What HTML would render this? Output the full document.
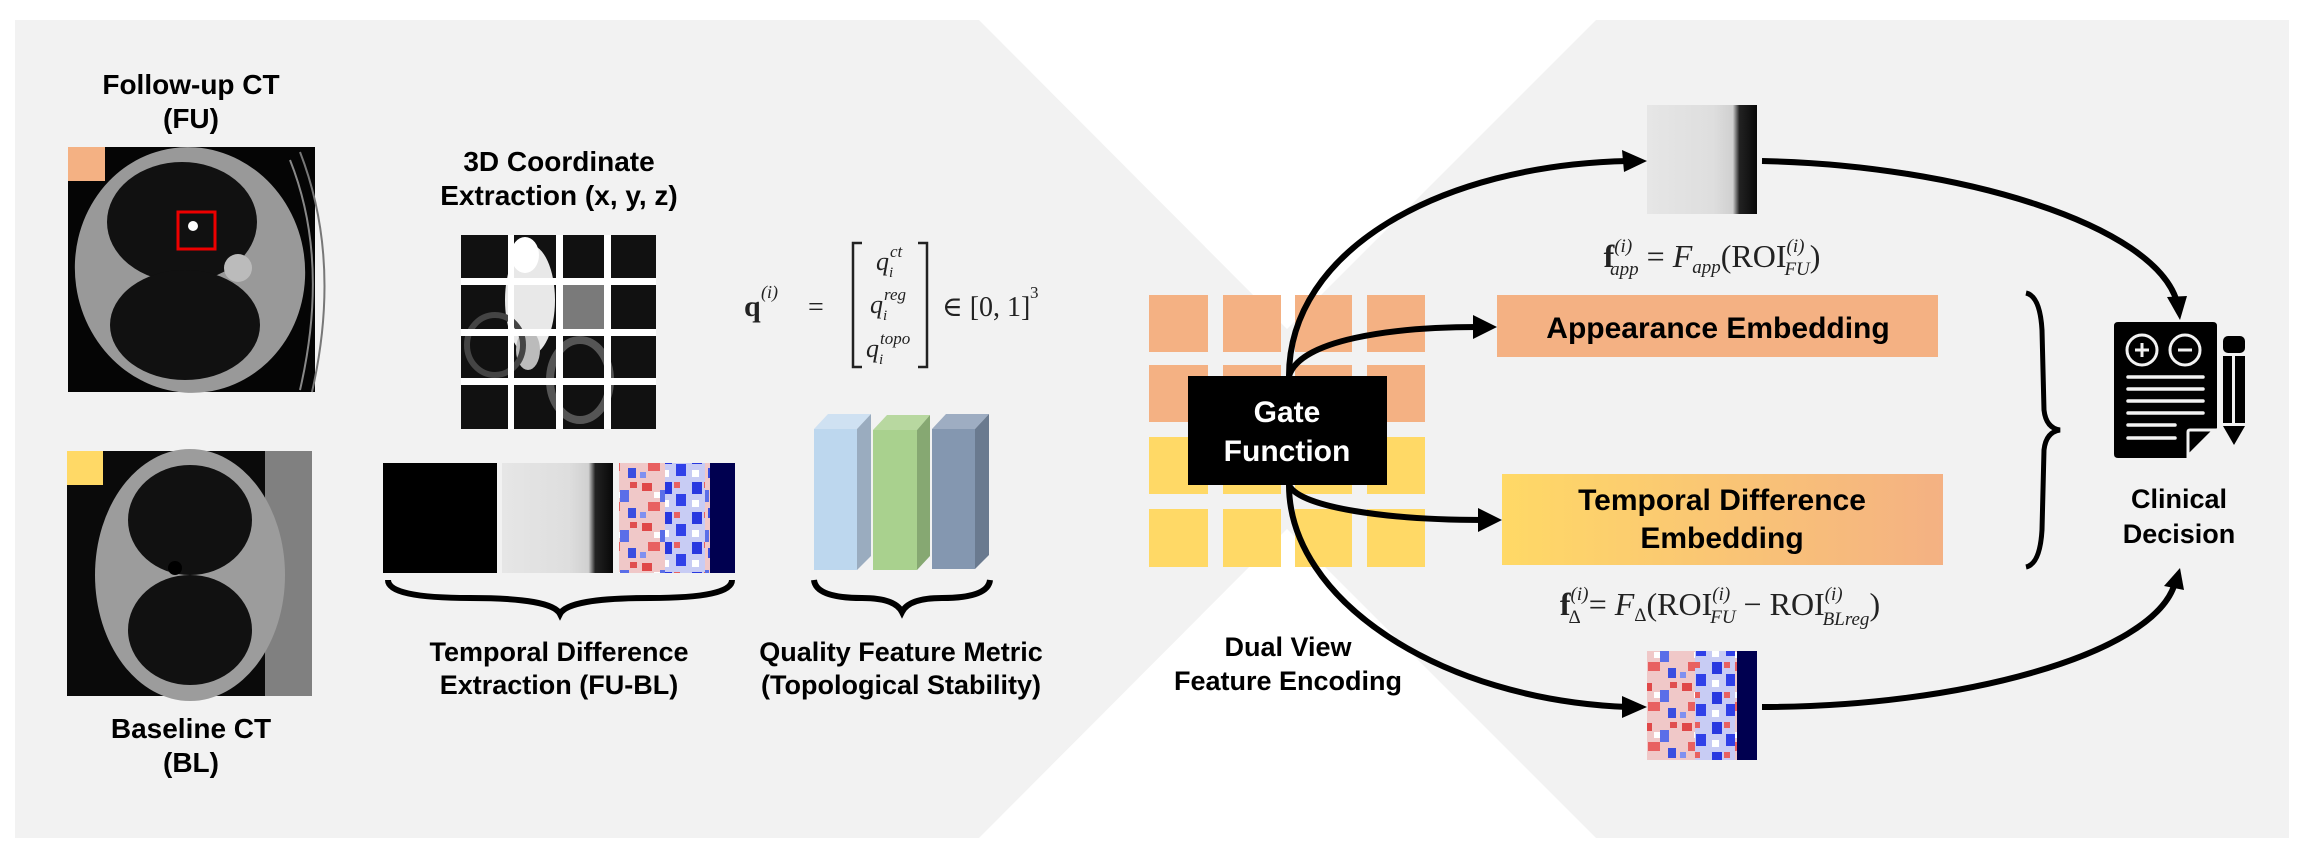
<!DOCTYPE html>
<html><head><meta charset="utf-8"><style>
html,body{margin:0;padding:0;background:#fff;}
svg{display:block;}
.t{font-family:"Liberation Sans",Arial,sans-serif;font-weight:bold;fill:#000;}
.m{font-family:"Liberation Serif","DejaVu Serif",serif;fill:#222;}
</style></head><body>
<svg width="2306" height="856" viewBox="0 0 2306 856" xmlns="http://www.w3.org/2000/svg">
<defs>
<linearGradient id="tg" x1="0" x2="1" y1="0" y2="0"><stop offset="0" stop-color="#ffd966"/><stop offset="1" stop-color="#f4b183"/></linearGradient>
<linearGradient id="gs" x1="0" x2="1"><stop offset="0" stop-color="#e6e6e6"/><stop offset="0.6" stop-color="#dedede"/><stop offset="0.78" stop-color="#d0d0d0"/><stop offset="0.84" stop-color="#222"/><stop offset="1" stop-color="#080808"/></linearGradient>
<pattern id="rb" width="40" height="40" patternUnits="userSpaceOnUse">
<rect width="40" height="40" fill="#f0c8c8"/>
<rect x="2" y="3" width="10" height="8" fill="#e04848"/><rect x="20" y="10" width="9" height="12" fill="#5a6ee8"/>
<rect x="8" y="22" width="12" height="9" fill="#e86060"/><rect x="28" y="28" width="8" height="10" fill="#3a4ee0"/>
<rect x="14" y="12" width="6" height="6" fill="#fff"/><rect x="30" y="2" width="7" height="6" fill="#e05050"/>
<rect x="0" y="32" width="6" height="6" fill="#8090f0"/>
</pattern>
<pattern id="bb" width="30" height="30" patternUnits="userSpaceOnUse">
<rect width="30" height="30" fill="#c8ccf4"/>
<rect x="2" y="2" width="10" height="12" fill="#2838e0"/><rect x="16" y="14" width="10" height="12" fill="#3040e8"/>
<rect x="14" y="2" width="6" height="6" fill="#e86060"/><rect x="2" y="20" width="7" height="7" fill="#fff"/>
</pattern>
</defs>

<polygon points="15,20 2289,20 2289,838 15,838" fill="#f2f2f2"/>
<polygon points="979,20 1596,20 1287,329" fill="#fff"/>
<polygon points="979,838 1596,838 1287,529" fill="#fff"/>

<!-- FU CT -->
<text class="t" x="191" y="94" font-size="28" text-anchor="middle">Follow-up CT</text>
<text class="t" x="191" y="128" font-size="28" text-anchor="middle">(FU)</text>
<rect x="68" y="147" width="247" height="245" fill="#050505"/>
<ellipse cx="190" cy="270" rx="115" ry="123" fill="#999" transform="rotate(-8 190 270)"/>
<ellipse cx="182" cy="222" rx="75" ry="60" fill="#111"/>
<ellipse cx="185" cy="325" rx="75" ry="55" fill="#111"/>
<circle cx="238" cy="268" r="14" fill="#bbb"/>
<path d="M290 160 Q330 260 300 390" stroke="#888" stroke-width="2" fill="none"/>
<path d="M300 152 Q342 260 312 392" stroke="#777" stroke-width="2" fill="none"/>
<rect x="178" y="212" width="37" height="37" fill="none" stroke="#e00" stroke-width="3"/>
<circle cx="193" cy="226" r="5" fill="#fff"/>
<rect x="68" y="147" width="37" height="34" fill="#f4b183"/>

<!-- BL CT -->
<rect x="67" y="451" width="245" height="245" fill="#0a0a0a"/>
<rect x="265" y="451" width="47" height="245" fill="#808080"/>
<ellipse cx="190" cy="575" rx="95" ry="126" fill="#9c9c9c"/>
<ellipse cx="190" cy="520" rx="62" ry="55" fill="#111"/>
<ellipse cx="190" cy="630" rx="62" ry="55" fill="#111"/>
<circle cx="175" cy="568" r="7" fill="#000"/>
<rect x="67" y="451" width="36" height="34" fill="#ffd966"/>
<text class="t" x="191" y="738" font-size="28" text-anchor="middle">Baseline CT</text>
<text class="t" x="191" y="772" font-size="28" text-anchor="middle">(BL)</text>

<!-- 3D coordinate -->
<text class="t" x="559" y="171" font-size="28" text-anchor="middle">3D Coordinate</text>
<text class="t" x="559" y="205" font-size="28" text-anchor="middle">Extraction (x, y, z)</text>
<rect x="461" y="235" width="195" height="194" fill="#111"/>
<ellipse cx="530" cy="300" rx="25" ry="55" fill="#e8e8e8"/>
<ellipse cx="525" cy="255" rx="14" ry="18" fill="#fff"/>
<rect x="563" y="285" width="41" height="44" fill="#7a7a7a"/>
<ellipse cx="528" cy="350" rx="12" ry="20" fill="#bbb"/>
<ellipse cx="580" cy="380" rx="30" ry="40" fill="none" stroke="#555" stroke-width="8"/>
<ellipse cx="495" cy="345" rx="28" ry="30" fill="none" stroke="#444" stroke-width="6"/>
<g fill="#fff">
<rect x="508" y="235" width="6" height="194"/><rect x="556" y="235" width="7" height="194"/><rect x="604" y="235" width="7" height="194"/>
<rect x="461" y="278" width="195" height="7"/><rect x="461" y="329" width="195" height="7"/><rect x="461" y="378" width="195" height="7"/>
</g>

<!-- strips -->
<rect x="383" y="463" width="114" height="110" fill="#000"/>
<rect x="502" y="463" width="111" height="110" fill="url(#gs)"/>
<rect x="619" y="463" width="116" height="110" fill="url(#rb)"/>
<rect x="665" y="463" width="40" height="110" fill="url(#bb)"/>
<rect x="710" y="463" width="25" height="110" fill="#000050"/>
<path d="M388 580 Q388 598 470 598 Q552 598 560 614 Q568 598 650 598 Q732 598 732 580" fill="none" stroke="#000" stroke-width="6"/>
<text class="t" x="559" y="661" font-size="27" text-anchor="middle">Temporal Difference</text>
<text class="t" x="559" y="694" font-size="27" text-anchor="middle">Extraction (FU-BL)</text>

<!-- q equation -->
<text class="m" x="744" y="316" font-size="30" font-weight="bold">q</text>
<text class="m" x="761" y="298" font-size="18" font-style="italic">(i)</text>
<text class="m" x="808" y="316" font-size="28">=</text>
<path d="M862 243 L853 243 L853 367 L862 367 M918 243 L927 243 L927 367 L918 367" fill="none" stroke="#222" stroke-width="2.5"/>
<text class="m" x="876" y="270" font-size="26" font-style="italic">q</text><text class="m" x="890" y="257" font-size="17" font-style="italic">ct</text><text class="m" x="889" y="277" font-size="15" font-style="italic">i</text>
<text class="m" x="870" y="313" font-size="26" font-style="italic">q</text><text class="m" x="884" y="300" font-size="17" font-style="italic">reg</text><text class="m" x="883" y="320" font-size="15" font-style="italic">i</text>
<text class="m" x="866" y="357" font-size="26" font-style="italic">q</text><text class="m" x="880" y="344" font-size="17" font-style="italic">topo</text><text class="m" x="879" y="364" font-size="15" font-style="italic">i</text>
<text class="m" x="942" y="316" font-size="28">∈ [0, 1]</text><text class="m" x="1030" y="298" font-size="17">3</text>

<!-- bars -->
<polygon points="814,429 828,414 871,414 857,429" fill="#cfe1f2"/><rect x="814" y="429" width="43" height="141" fill="#bdd7ee"/><polygon points="857,429 871,414 871,556 857,570" fill="#9aacbf"/>
<polygon points="873,430 887,415 930,415 917,430" fill="#b8d8a0"/><rect x="873" y="430" width="44" height="140" fill="#a9d18e"/><polygon points="917,430 930,415 930,556 917,570" fill="#86a872"/>
<polygon points="932,429 946,414 989,414 975,429" fill="#9eadc2"/><rect x="932" y="429" width="43" height="140" fill="#8497b0"/><polygon points="975,429 989,414 989,555 975,569" fill="#6a7a8f"/>
<path d="M814 580 Q816 598 862 598 Q895 598 902 612 Q909 598 942 598 Q988 598 990 580" fill="none" stroke="#000" stroke-width="6"/>
<text class="t" x="901" y="661" font-size="27" text-anchor="middle">Quality Feature Metric</text>
<text class="t" x="901" y="694" font-size="27" text-anchor="middle">(Topological Stability)</text>

<!-- grid -->
<g fill="#f4b183">
<rect x="1149" y="295" width="59" height="57"/><rect x="1223" y="295" width="58" height="57"/><rect x="1295" y="295" width="57" height="57"/><rect x="1367" y="295" width="58" height="57"/>
<rect x="1149" y="365" width="59" height="57"/><rect x="1223" y="365" width="58" height="57"/><rect x="1295" y="365" width="57" height="57"/><rect x="1367" y="365" width="58" height="57"/>
</g>
<g fill="#ffd966">
<rect x="1149" y="437" width="59" height="57"/><rect x="1223" y="437" width="58" height="57"/><rect x="1295" y="437" width="57" height="57"/><rect x="1367" y="437" width="58" height="57"/>
<rect x="1149" y="509" width="59" height="58"/><rect x="1223" y="509" width="58" height="58"/><rect x="1295" y="509" width="57" height="58"/><rect x="1367" y="509" width="58" height="58"/>
</g>
<rect x="1188" y="376" width="199" height="109" fill="#000"/>
<text class="t" x="1287" y="422" font-size="30" text-anchor="middle" style="fill:#fff">Gate</text>
<text class="t" x="1287" y="461" font-size="30" text-anchor="middle" style="fill:#fff">Function</text>
<text class="t" x="1288" y="656" font-size="27" text-anchor="middle">Dual View</text>
<text class="t" x="1288" y="690" font-size="27" text-anchor="middle">Feature Encoding</text>

<!-- right images -->
<rect x="1647" y="105" width="110" height="109" fill="url(#gs)"/>
<rect x="1647" y="651" width="110" height="109" fill="url(#rb)"/>
<rect x="1695" y="651" width="40" height="109" fill="url(#bb)"/>
<rect x="1737" y="651" width="20" height="109" fill="#000050"/>

<!-- boxes -->
<rect x="1497" y="295" width="441" height="62" fill="#f4b183"/>
<text class="t" x="1718" y="338" font-size="30" text-anchor="middle">Appearance Embedding</text>
<rect x="1502" y="474" width="441" height="91" fill="url(#tg)"/>
<text class="t" x="1722" y="510" font-size="30" text-anchor="middle">Temporal Difference</text>
<text class="t" x="1722" y="548" font-size="30" text-anchor="middle">Embedding</text>

<!-- equations -->
<text class="m" x="1712" y="267" font-size="32" text-anchor="middle"><tspan font-weight="bold">f</tspan><tspan font-size="19" font-style="italic" dy="-15">(i)</tspan><tspan font-size="19" font-style="italic" dx="-22" dy="23">app</tspan><tspan dy="-8">  =  </tspan><tspan font-style="italic">F</tspan><tspan font-size="19" font-style="italic" dy="6">app</tspan><tspan dy="-6">(ROI</tspan><tspan font-size="19" font-style="italic" dy="-15">(i)</tspan><tspan font-size="19" font-style="italic" dx="-20" dy="23">FU</tspan><tspan dy="-8">)</tspan></text>

<text class="m" x="1720" y="615" font-size="32" text-anchor="middle"><tspan font-weight="bold">f</tspan><tspan font-size="19" font-style="italic" dy="-15">(i)</tspan><tspan font-size="19" dx="-20" dy="23">Δ</tspan><tspan dy="-8">  =  </tspan><tspan font-style="italic">F</tspan><tspan font-size="19" dy="6">Δ</tspan><tspan dy="-6">(ROI</tspan><tspan font-size="19" font-style="italic" dy="-15">(i)</tspan><tspan font-size="19" font-style="italic" dx="-20" dy="23">FU</tspan><tspan dy="-8">  −  ROI</tspan><tspan font-size="19" font-style="italic" dy="-15">(i)</tspan><tspan font-size="19" font-style="italic" dx="-20" dy="25">BLreg</tspan><tspan dy="-10">)</tspan></text>

<!-- big brace -->
<path d="M2026 293 Q2040 296 2042 330 L2044 410 Q2046 428 2060 430 Q2046 432 2044 450 L2042 530 Q2040 564 2026 567" fill="none" stroke="#000" stroke-width="5"/>

<!-- icon -->
<path d="M2118 322 L2213 322 Q2217 322 2217 326 L2217 428 L2187 458 L2118 458 Q2114 458 2114 454 L2114 326 Q2114 322 2118 322Z" fill="#000"/>
<path d="M2188 456 L2188 432 Q2188 430 2190 430 L2214 430Z" fill="#000" stroke="#f2f2f2" stroke-width="3"/>
<circle cx="2142" cy="350" r="15" fill="none" stroke="#f2f2f2" stroke-width="3"/>
<path d="M2135 350 H2149 M2142 343 V357" stroke="#f2f2f2" stroke-width="3"/>
<circle cx="2185" cy="350" r="15" fill="none" stroke="#f2f2f2" stroke-width="3"/>
<path d="M2178 350 H2192" stroke="#f2f2f2" stroke-width="3"/>
<g stroke="#f2f2f2" stroke-width="3.5" stroke-linecap="round">
<path d="M2128 377 H2203 M2128 389 H2203 M2128 401 H2203 M2128 413 H2203 M2128 425 H2175 M2128 438 H2175"/>
</g>
<rect x="2223" y="336" width="22" height="17" rx="5" fill="#000"/>
<rect x="2223" y="356" width="22" height="67" fill="#000"/>
<rect x="2232" y="356" width="3" height="67" fill="#f2f2f2"/>
<polygon points="2223,426 2245,426 2234,445" fill="#000"/>
<text class="t" x="2179" y="508" font-size="27" text-anchor="middle">Clinical</text>
<text class="t" x="2179" y="543" font-size="27" text-anchor="middle">Decision</text>

<!-- arrows -->
<g fill="none" stroke="#000" stroke-width="6">
<path d="M1289 376 C1289 250 1440 165 1628 161"/>
<path d="M1762 161 C1960 165 2155 225 2177 302"/>
<path d="M1289 376 C1300 340 1390 327 1478 327"/>
<path d="M1289 485 C1300 508 1390 520 1483 520"/>
<path d="M1289 485 C1289 600 1440 700 1628 707"/>
<path d="M1762 707 C1960 707 2150 655 2174 586"/>
</g>
<g fill="#000">
<polygon points="1647,161 1622,150 1624,172"/>
<polygon points="2180,320 2167,297 2187,296"/>
<polygon points="1497,327 1473,315 1473,339"/>
<polygon points="1502,520 1478,508 1478,532"/>
<polygon points="1647,707 1622,696 1622,718"/>
<polygon points="2180,568 2164,586 2184,590"/>
</g>
</svg>
</body></html>
